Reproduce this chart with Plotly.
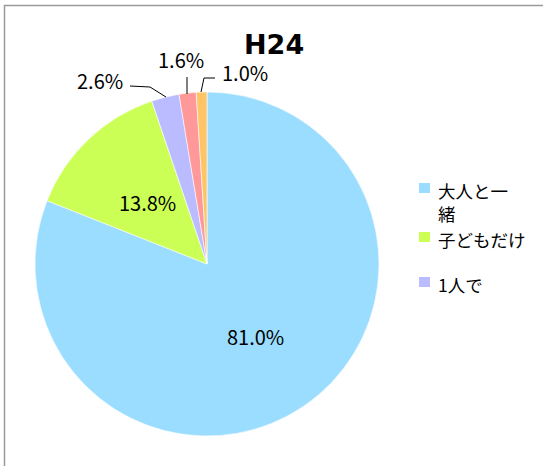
import math
import plotly.graph_objects as go

# Share of respondents by who they are with (H24)
labels = ["大人と一緒", "子どもだけ", "1人で", "その他", "無回答"]
values = [81.0, 13.8, 2.6, 1.6, 1.0]
colors = ["#9BDDFF", "#CCFF55", "#BBBBFF", "#FF9999", "#FFC466"]
legend_labels = ["大人と一<br>緒", "子どもだけ", "1人で"]

W, H = 543, 466
CX, CY, R = 207, 264, 172  # pie centre / radius in pixels

def px(x):
    return x / W

def py(y):
    return 1 - y / H

NUM_FONT = "Liberation Sans Narrow, Arial Narrow, Noto Sans CJK JP, sans-serif"
JP_FONT = "Noto Sans CJK JP, sans-serif"

fig = go.Figure(go.Pie(
    labels=labels,
    values=values,
    marker=dict(colors=colors, line=dict(color="white", width=0.6)),
    sort=False,
    direction="clockwise",
    rotation=0,
    textinfo="none",
    hoverinfo="label+percent",
    showlegend=False,
    domain=dict(x=[px(CX - R), px(CX + R)], y=[py(CY + R), py(CY - R)]),
))

annotations = []
shapes = []

def label(x, y, text, font, size, **kw):
    d = dict(x=px(x), y=py(y), xref="paper", yref="paper",
             xanchor="center", yanchor="middle",
             text=text, showarrow=False,
             font=dict(family=font, size=size, color="black"))
    d.update(kw)
    annotations.append(d)

# Inside labels for the two large slices, placed at half radius along the mid-angle
total = sum(values)
cum = 0.0
for i, v in enumerate(values):
    mid = (cum + v / 2) / total * 2 * math.pi
    cum += v
    if i < 2:
        x = CX + 0.5 * R * math.sin(mid)
        y = CY - 0.5 * R * math.cos(mid) + 1
        label(x, y, f"{v:.1f}%", NUM_FONT, 20)

# Outside labels with leader lines for the small slices
outside = [
    (2, (100, 80), [(130, 86), (150, 87), (166, 97)]),
    (3, (181, 60), [(187, 77), (187, 94)]),
    (4, (245, 73), [(215, 78), (204, 78), (201, 92)]),
]
for idx, (tx, ty), pts in outside:
    label(tx, ty, f"{values[idx]:.1f}%", NUM_FONT, 20)
    path = "M " + " L ".join(f"{px(a)},{py(b)}" for a, b in pts)
    shapes.append(dict(type="path", xref="paper", yref="paper", path=path,
                       line=dict(color="black", width=1)))

# Title
label(274, 44, "<b>H24</b>", "DejaVu Sans, sans-serif", 27)

# Legend (first three categories)
legend_rows = [188, 237, 282]
for i, (lab, ly) in enumerate(zip(legend_labels, legend_rows)):
    shapes.append(dict(type="rect", xref="paper", yref="paper",
                       x0=px(419), x1=px(430), y0=py(ly + 5), y1=py(ly - 5),
                       fillcolor=colors[i], line=dict(width=0)))
    label(436, ly - 12, lab, JP_FONT, 17.5, xanchor="left", yanchor="top", align="left")

# Chart frame
shapes.append(dict(type="rect", xref="paper", yref="paper",
                   x0=px(4.5), x1=px(W + 10), y0=py(H + 10), y1=py(5.5),
                   line=dict(color="#9A9A9A", width=1.5), fillcolor="rgba(0,0,0,0)"))

fig.update_layout(
    width=W, height=H,
    margin=dict(l=0, r=0, t=0, b=0),
    paper_bgcolor="white",
    plot_bgcolor="white",
    annotations=annotations,
    shapes=shapes,
    showlegend=False,
)

fig.write_html("out.html")
